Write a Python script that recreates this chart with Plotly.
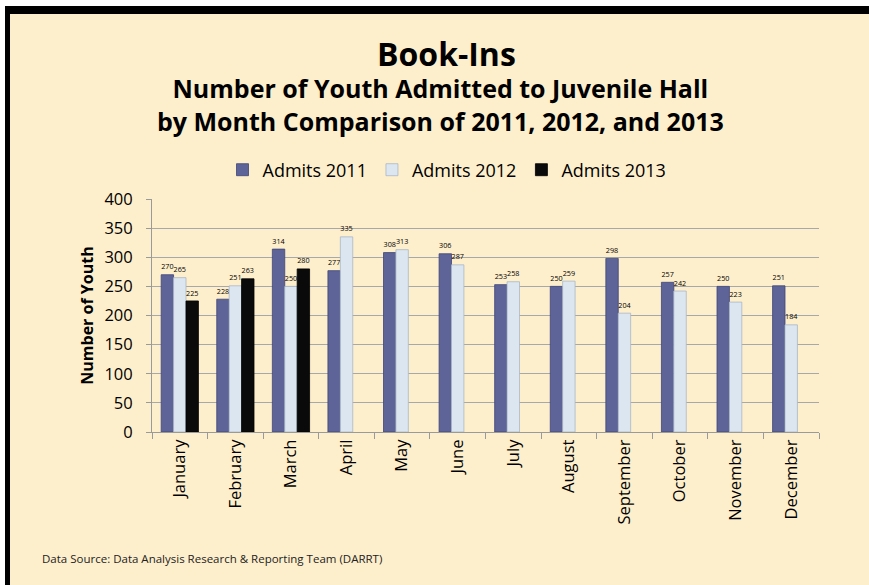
import plotly.graph_objects as go

months = ["January", "February", "March", "April", "May", "June", "July",
          "August", "September", "October", "November", "December"]
admits_2011 = [270, 228, 314, 277, 308, 306, 253, 250, 298, 257, 250, 251]
admits_2012 = [265, 251, 250, 335, 313, 287, 258, 259, 204, 242, 223, 184]
admits_2013 = [225, 263, 280, None, None, None, None, None, None, None, None, None]

W, H = 869, 585
L, R, T, B = 152, 50, 199, 153
PW, PH = W - L - R, H - T - B

def px_x(p):
    return (p - L) / PW

def px_y(q):
    return (H - B - q) / PH

FONT = "Open Sans"
CREAM = "#FEEFCC"

series = [
    ("Admits 2011", admits_2011, "#5E6497", "#3F4578"),
    ("Admits 2012", admits_2012, "#DCE6F1", "#A9B6C6"),
    ("Admits 2013", admits_2013, "#0A0A0A", "#000000"),
]

fig = go.Figure()
for name, vals, col, edge in series:
    fig.add_trace(go.Bar(
        x=months, y=vals, name=name,
        marker=dict(color=col, line=dict(color=edge, width=0.8)),
        text=[("" if v is None else str(v)) for v in vals],
        textposition="outside",
        textfont=dict(family=FONT, size=9, color="black"),
        cliponaxis=False,
    ))

shapes = [
    # white margin strips and the black frame along the top and left
    dict(type="rect", xref="paper", yref="paper", x0=px_x(0), x1=px_x(W), y0=px_y(0), y1=px_y(6),
         fillcolor="white", line_width=0, layer="below"),
    dict(type="rect", xref="paper", yref="paper", x0=px_x(0), x1=px_x(5), y0=px_y(0), y1=px_y(H),
         fillcolor="white", line_width=0, layer="below"),
    dict(type="rect", xref="paper", yref="paper", x0=px_x(5), x1=px_x(W), y0=px_y(6), y1=px_y(14),
         fillcolor="black", line_width=0, layer="below"),
    dict(type="rect", xref="paper", yref="paper", x0=px_x(5), x1=px_x(10), y0=px_y(6), y1=px_y(H),
         fillcolor="black", line_width=0, layer="below"),
]

annotations = [
    dict(text="<b>Book-Ins</b>", x=px_x(446), y=px_y(53), xref="paper", yref="paper",
         showarrow=False, xanchor="center", yanchor="middle",
         font=dict(family=FONT, size=32, color="black")),
    dict(text="<b>Number of Youth Admitted to Juvenile Hall<br>"
              "by Month Comparison of 2011, 2012, and 2013</b>",
         x=px_x(440), y=px_y(104), xref="paper", yref="paper", showarrow=False,
         xanchor="center", yanchor="middle", align="center",
         font=dict(family=FONT, size=25, color="black")),
    dict(text="Data Source: Data Analysis Research & Reporting Team (DARRT)",
         x=px_x(40), y=px_y(558), xref="paper", yref="paper", showarrow=False,
         xanchor="left", yanchor="middle",
         font=dict(family=FONT, size=11.5, color="#222222")),
]

fig.update_layout(
    width=W, height=H,
    margin=dict(l=L, r=R, t=T, b=B),
    paper_bgcolor=CREAM, plot_bgcolor="rgba(0,0,0,0)",
    barmode="group", bargap=0.33, bargroupgap=0.0,
    font=dict(family=FONT, color="black"),
    showlegend=True,
    legend=dict(orientation="h", x=px_x(447), y=px_y(170), xanchor="center", yanchor="middle",
                font=dict(family=FONT, size=18, color="black"), bgcolor="rgba(0,0,0,0)",
                itemwidth=30, traceorder="normal"),
    shapes=shapes,
    annotations=annotations,
    xaxis=dict(tickangle=-90, tickfont=dict(family=FONT, size=16.5, color="black"),
               showline=True, linecolor="#9A9A9A", linewidth=1,
               ticks="outside", tickson="boundaries", ticklen=6, tickcolor="#9A9A9A",
               showgrid=False),
    yaxis=dict(range=[0, 400], dtick=50, tickfont=dict(family=FONT, size=16.5, color="black"),
               showline=True, linecolor="#9A9A9A", linewidth=1,
               ticks="outside", ticklen=5, tickcolor="#9A9A9A", ticklabelstandoff=10,
               showgrid=True, gridcolor="#A8A8A8", gridwidth=1, zeroline=False,
               title=dict(text="<b>Number of Youth</b>", standoff=6,
                          font=dict(family=FONT, size=16, color="black"))),
)

fig.write_html("out.html")
